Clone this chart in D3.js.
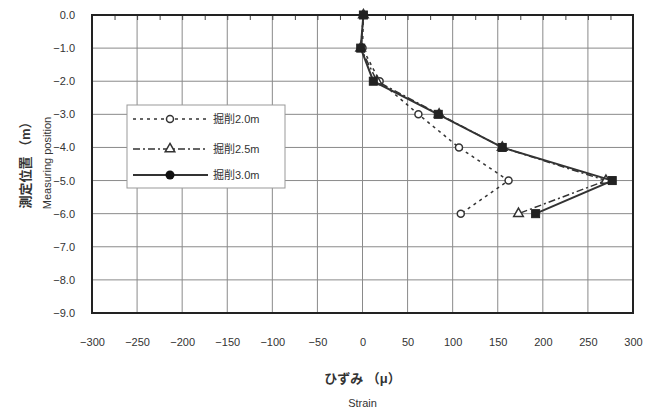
<!DOCTYPE html>
<html>
<head>
<meta charset="utf-8">
<script src="https://cdn.jsdelivr.net/npm/d3@7"></script>
<style>
  body { margin: 0; background: #fff; }
  svg text { font-family: "Liberation Sans", Arial, "Noto Sans CJK JP", sans-serif; fill: #333; }
</style>
</head>
<body>
<svg id="chart" width="655" height="412"></svg>
<script>
// depth (m) of each measuring point
const depths = [0, -1, -2, -3, -4, -5, -6];
// strain readings for each excavation stage
const strain20 = [1, 0, 19, 62, 107, 162, 109];
const strain25 = [1, -2, 16, 85, 155, 270, 173];
const strain30 = [1, -2, 12, 84, 155, 277, 192];
const seriesNames = ["掘削2.0m", "掘削2.5m", "掘削3.0m"];
const xTicks = d3.range(-300, 301, 50);
const yTicks = d3.range(0, -9.5, -1);

const width = 655;
const height = 412;
const margin = { top: 15, right: 22, bottom: 99, left: 92 };

const svg = d3.select("#chart");

const x = d3.scaleLinear().domain([-300, 300]).range([margin.left, width - margin.right]);
const y = d3.scaleLinear().domain([0, -9]).range([margin.top, height - margin.bottom]);

// grid
svg.append("g")
  .selectAll("line.v")
  .data(xTicks)
  .enter()
  .append("line")
  .attr("x1", (d) => x(d))
  .attr("x2", (d) => x(d))
  .attr("y1", y(0))
  .attr("y2", y(-9))
  .attr("stroke", "#8a8a8a")
  .attr("stroke-width", 1);

svg.append("g")
  .selectAll("line.h")
  .data(yTicks)
  .enter()
  .append("line")
  .attr("x1", x(-300))
  .attr("x2", x(300))
  .attr("y1", (d) => y(d))
  .attr("y2", (d) => y(d))
  .attr("stroke", "#8a8a8a")
  .attr("stroke-width", 1);

// small ticks along the top edge
svg.append("g")
  .attr("transform", `translate(0,${y(0)})`)
  .call(d3.axisBottom(x).tickValues(d3.range(-300, 301, 25)).tickSize(5).tickFormat(""))
  .call((g) => g.select(".domain").remove())
  .selectAll("line")
  .attr("stroke", "#444");

// frame
svg.append("rect")
  .attr("x", x(-300))
  .attr("y", y(0))
  .attr("width", x(300) - x(-300))
  .attr("height", y(-9) - y(0))
  .attr("fill", "none")
  .attr("stroke", "#222")
  .attr("stroke-width", 2);

// tick labels
svg.append("g")
  .attr("transform", `translate(0,${y(-9) + 22})`)
  .call(d3.axisBottom(x).tickValues(xTicks).tickSize(0).tickFormat(d3.format("d")))
  .call((g) => g.select(".domain").remove())
  .selectAll("text")
  .attr("font-size", 11)
  .attr("fill", "#444");

svg.append("g")
  .attr("transform", `translate(${x(-300) - 14},0)`)
  .call(d3.axisLeft(y).tickValues(yTicks).tickSize(0).tickFormat(d3.format(".1f")))
  .call((g) => g.select(".domain").remove())
  .selectAll("text")
  .attr("font-size", 11)
  .attr("fill", "#444");

// axis titles
svg.append("text")
  .attr("x", x(0))
  .attr("y", 383)
  .attr("text-anchor", "middle")
  .attr("font-size", 13)
  .attr("font-weight", "bold")
  .text("ひずみ （μ）");

svg.append("text")
  .attr("x", x(0))
  .attr("y", 407)
  .attr("text-anchor", "middle")
  .attr("font-size", 11)
  .text("Strain");

svg.append("text")
  .attr("transform", "translate(30,162) rotate(-90)")
  .attr("text-anchor", "middle")
  .attr("font-size", 13)
  .attr("font-weight", "bold")
  .text("測定位置 （m）");

svg.append("text")
  .attr("transform", "translate(51,163) rotate(-90)")
  .attr("text-anchor", "middle")
  .attr("font-size", 11)
  .text("Measuring position");

// series
const series = [
  { name: seriesNames[0], values: strain20, dash: "3,4", marker: "circle" },
  { name: seriesNames[1], values: strain25, dash: "7,3,2,3", marker: "triangle" },
  { name: seriesNames[2], values: strain30, dash: null, marker: "square" },
];

const line = d3
  .line()
  .x((d) => x(d[0]))
  .y((d) => y(d[1]));

function drawMarker(g, type, cx, cy) {
  if (type === "circle") {
    g.append("circle")
      .attr("cx", cx).attr("cy", cy).attr("r", 3.5)
      .attr("fill", "#fff").attr("stroke", "#333").attr("stroke-width", 1.5);
  } else if (type === "triangle") {
    g.append("path")
      .attr("d", d3.symbol(d3.symbolTriangle, 40)())
      .attr("transform", `translate(${cx},${cy})`)
      .attr("fill", "#fff").attr("stroke", "#333").attr("stroke-width", 1.5);
  } else if (type === "dot") {
    g.append("circle")
      .attr("cx", cx).attr("cy", cy).attr("r", 4.5)
      .attr("fill", "#111");
  } else {
    g.append("rect")
      .attr("x", cx - 4).attr("y", cy - 4).attr("width", 8).attr("height", 8)
      .attr("fill", "#222").attr("stroke", "#222");
  }
}

series.forEach((s) => {
  const pts = s.values.map((v, i) => [v, depths[i]]);
  const g = svg.append("g");
  g.append("path")
    .attr("d", line(pts))
    .attr("fill", "none")
    .attr("stroke", "#333")
    .attr("stroke-width", s.dash ? 1.5 : 2)
    .attr("stroke-dasharray", s.dash);
  pts.forEach((p) => drawMarker(g, s.marker, x(p[0]), y(p[1])));
});

// legend
const legend = svg.append("g");
legend.append("rect")
  .attr("x", 127).attr("y", 105).attr("width", 158).attr("height", 83)
  .attr("fill", "#fff").attr("stroke", "#999").attr("stroke-width", 1);

series.forEach((s, i) => {
  const ly = [119, 149, 175][i];
  legend.append("line")
    .attr("x1", 133).attr("x2", 208).attr("y1", ly).attr("y2", ly)
    .attr("stroke", "#333")
    .attr("stroke-width", s.dash ? 1.5 : 2)
    .attr("stroke-dasharray", s.dash);
  drawMarker(legend, s.marker === "square" ? "dot" : s.marker, 170, ly);
  legend.append("text")
    .attr("x", 213).attr("y", ly + 4)
    .attr("font-size", 11)
    .text(s.name);
});
</script>
</body>
</html>
